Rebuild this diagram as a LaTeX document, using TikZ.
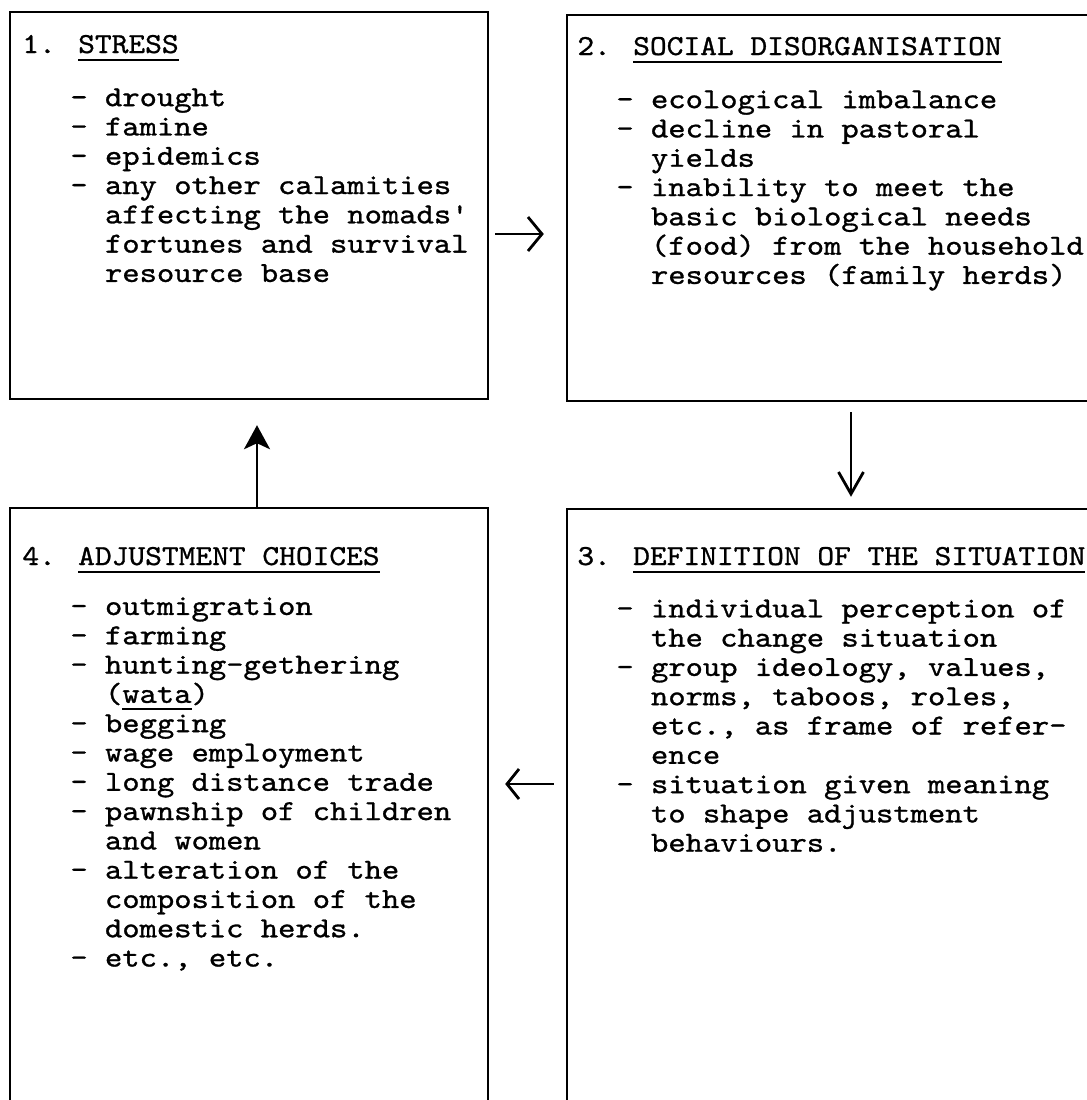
\documentclass[tikz,border=0pt]{standalone}
\usepackage{fontspec}
\newfontfamily\typefont{lmmono10-regular.otf}[FakeStretch=1.137,FakeBold=1]
\newfontfamily\headtype{lmmono10-regular.otf}[FakeStretch=1.1,FakeBold=1]
\usetikzlibrary{arrows.meta,fit}
\newcommand\boxfont{\typefont\fontsize{14.5pt}{14.65pt}\selectfont}
\newcommand\headfont{\headtype\fontsize{14.5pt}{14.65pt}\selectfont}
\newcommand\undl[1]{\setbox0\hbox{#1}\rlap{\rule[-3.8pt]{\wd0}{1pt}}\box0}
\newcommand\contd{\phantom{xx}}

\begin{document}
\begin{tikzpicture}[x=0.5pt,y=-0.5pt,
  box/.style={draw,line width=1.2pt,inner sep=0pt},
  heading/.style={anchor=base west,inner sep=0pt,font=\headfont},
  items/.style={anchor=north west,inner sep=0pt,align=left,font=\boxfont,
    execute at begin node={\rule{0pt}{11.5pt}}},
  flow/.style={line width=1.4pt}]
  \useasboundingbox (0,0) rectangle (1087,1100);

  % the four boxes (right and bottom edges run off the page)
  \node[box,fit={(10,12) (488,399)}] (stress) {};
  \node[box,fit={(567,15) (1096,401)}] (disorg) {};
  \node[box,fit={(567,509) (1096,1112)}] (situation) {};
  \node[box,fit={(10,508) (488,1112)}] (choices) {};

  % 1
  \node[heading] (stresshead) at (22,53) {1. \undl{STRESS}};
  \node[items] (stresslist) at (70,88) {- drought\\
    - famine\\
    - epidemics\\
    - any other calamities\\
    \contd affecting the nomads'\\
    \contd fortunes and survival\\
    \contd resource base};

  % 2
  \node[heading] (disorghead) at (577,55) {2. \undl{SOCIAL DISORGANISATION}};
  \node[items] (disorglist) at (616,90) {- ecological imbalance\\
    - decline in pastoral\\
    \contd yields\\
    - inability to meet the\\
    \contd basic biological needs\\
    \contd (food) from the household\\
    \contd resources (family herds)};

  % 3
  \node[heading] (situationhead) at (577,565) {3. \undl{DEFINITION OF THE SITUATION}};
  \node[items] (situationlist) at (616,599) {- individual perception of\\
    \contd the change situation\\
    - group ideology, values,\\
    \contd norms, taboos, roles,\\
    \contd etc., as frame of refer-\\
    \contd ence\\
    - situation given meaning\\
    \contd to shape adjustment\\
    \contd behaviours.};

  % 4
  \node[heading] (choiceshead) at (22,565) {4. \undl{ADJUSTMENT CHOICES}};
  \node[items] (choiceslist) at (70,597) {- outmigration\\
    - farming\\
    - hunting-gethering\\
    \contd(\undl{wata})\\
    - begging\\
    - wage employment\\
    - long distance trade\\
    - pawnship of children\\
    \contd and women\\
    - alteration of the\\
    \contd composition of the\\
    \contd domestic herds.\\
    - etc., etc.};

  % the cycle
  \draw[flow,-{Straight Barb[length=7pt,width=17pt]},shorten <=3pt,shorten >=11pt]
    (stress.east |- 0,234) -- (disorg.west |- 0,234);
  \draw[flow,-{Straight Barb[length=11pt,width=12.5pt]},shorten <=5pt,shorten >=5.5pt]
    (851,0 |- disorg.south) -- (851,0 |- situation.north);
  \draw[flow,-{Straight Barb[length=6pt,width=15pt]},shorten <=6pt,shorten >=8pt]
    (situation.west |- 0,784) -- (choices.east |- 0,784);
  \draw[flow,-{Stealth[length=12pt,width=13pt,inset=3pt]},shorten >=12.5pt]
    (257,0 |- choices.north) -- (257,0 |- stress.south);
\end{tikzpicture}
\end{document}
